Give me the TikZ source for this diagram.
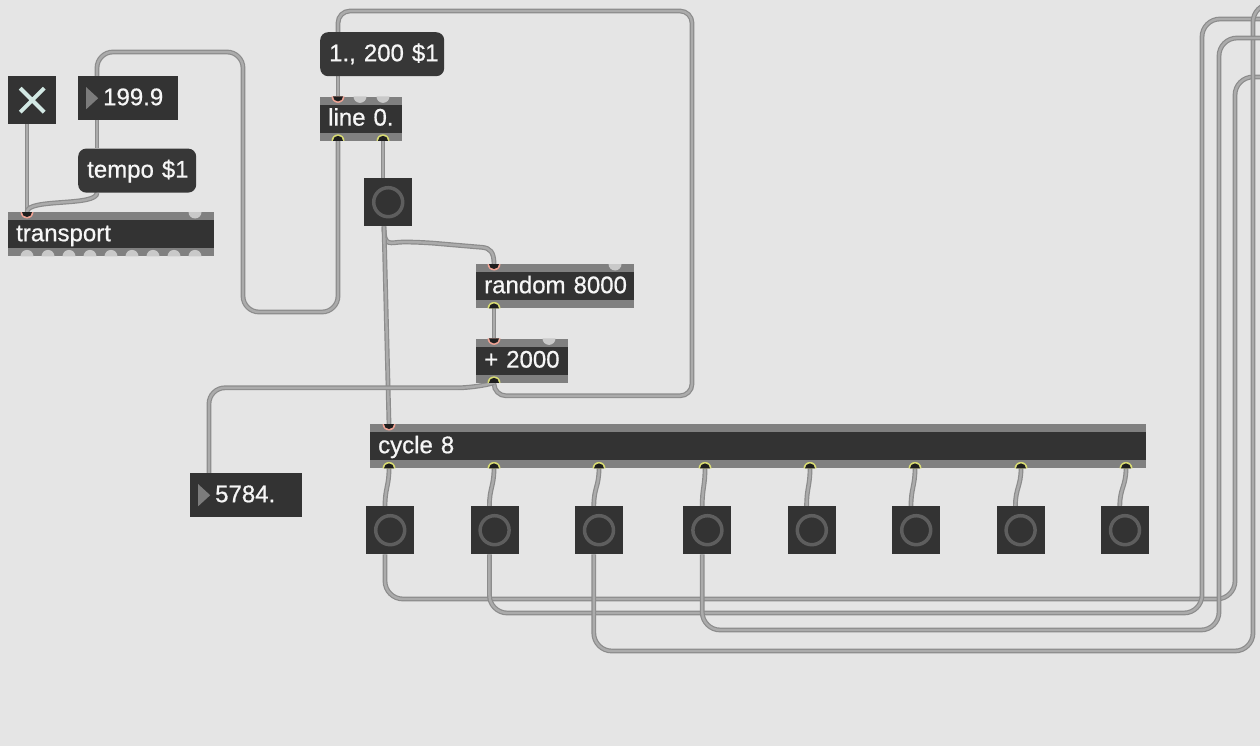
\documentclass[tikz,border=0pt]{standalone}
\usepackage{fontspec}
\setmainfont{Liberation Sans}
\newfontfamily\maxfont{Liberation Sans}[FakeBold=0.7]
\usetikzlibrary{positioning,backgrounds}

\definecolor{patchbg}{HTML}{E5E5E5}
\definecolor{objdark}{HTML}{333333}
\definecolor{objgray}{HTML}{808080}
\definecolor{msgdark}{HTML}{373737}
\definecolor{textwhite}{HTML}{F6F6F6}
\definecolor{portdark}{HTML}{1E1E1E}
\definecolor{portfree}{HTML}{C9C9C9}
\definecolor{inrim}{HTML}{EFA394}
\definecolor{outrim}{HTML}{D9DC72}
\definecolor{wireedge}{HTML}{8C8C8C}
\definecolor{wirefill}{HTML}{ABABAB}
\definecolor{ringgray}{HTML}{5E5E5E}
\definecolor{xcol}{HTML}{D3E9E4}
\definecolor{tricol}{HTML}{7C7C7C}

\tikzset{
  maxtext/.style={font=\maxfont\fontsize{24}{28}\selectfont, text=textwhite, anchor=north west,
    inner sep=0pt, minimum height=44pt, align=left, text height=18pt, text depth=4pt},
  obj/.style={maxtext, fill=objgray, execute at begin node={\hspace*{8pt}},
    path picture={\fill[objdark] ([yshift=-8pt]path picture bounding box.north west)
      rectangle ([yshift=8pt]path picture bounding box.south east);}},
  msgbox/.style={maxtext, fill=msgdark, rounded corners=8pt, execute at begin node={\hspace*{9pt}}},
  numbox/.style={maxtext, fill=objdark, execute at begin node={\hspace*{25pt}},
    path picture={\fill[tricol] ([xshift=8pt,yshift=-11pt]path picture bounding box.north west)
      -- ++(0pt,-22pt) -- ++(12pt,11pt) -- cycle;}},
  bangbox/.style={anchor=north west, fill=objdark, minimum size=48pt, inner sep=0pt,
    path picture={\draw[ringgray, line width=3.5pt] (path picture bounding box.center) circle (14.5pt);}},
  togglebox/.style={anchor=north west, fill=objdark, minimum size=48pt, inner sep=0pt,
    path picture={\draw[xcol, line width=4pt]
      ([shift={(-12pt,12pt)}]path picture bounding box.center) -- ([shift={(12pt,-12pt)}]path picture bounding box.center)
      ([shift={(-12pt,-12pt)}]path picture bounding box.center) -- ([shift={(12pt,12pt)}]path picture bounding box.center);}},
  wire/.style={draw=wireedge, line width=4.8pt, rounded corners=16pt, postaction={draw=wirefill, line width=2.4pt}},
  inlet/.pic={\fill[inrim] (-6.5pt,0pt) arc[start angle=180, end angle=360, radius=6.5pt] -- cycle;
    \fill[portdark] (-5pt,0pt) arc[start angle=180, end angle=360, radius=5pt] -- cycle;},
  outlet/.pic={\fill[outrim] (-6.5pt,0pt) arc[start angle=180, end angle=0, radius=6.5pt] -- cycle;
    \fill[portdark] (-5pt,0pt) arc[start angle=180, end angle=0, radius=5pt] -- cycle;},
  freein/.pic={\fill[portfree] (-6.5pt,0pt) arc[start angle=180, end angle=360, radius=6.5pt] -- cycle;},
  freeout/.pic={\fill[portfree] (-6.5pt,0pt) arc[start angle=180, end angle=0, radius=6.5pt] -- cycle;}
}

\begin{document}
\begin{tikzpicture}[x=1pt, y=-1pt]
  \useasboundingbox (0,0) rectangle (1260,746);

  \node[togglebox] (tog) at (8,76) {};
  \node[numbox, text width=100pt] (num1) at (78,76) {199.9};
  \node[msgbox, text width=118pt, below=28pt of num1.south west, anchor=north west] (tmp) {tempo \$1};
  \node[obj, text width=206pt] (tr) at (8,212) {transport};
  \node[msgbox, text width=124pt] (msg) at (320,32) {1., 200 \$1};
  \node[obj, text width=82pt, below=20pt of msg.south west, anchor=north west] (ln) {line 0.};
  \node[bangbox] (bang) at (364,178) {};
  \node[obj, text width=158pt] (rnd) at (476,264) {random 8000};
  \node[obj, text width=92pt, below=30pt of rnd.south west, anchor=north west] (add) {+ 2000};
  \node[numbox, text width=112pt] (num2) at (190,473) {5784.};
  \node[obj, text width=776pt] (cyc) at (370,424) {cycle 8};
  \node[bangbox] (b1) at (366,506) {};
  \node[bangbox, right=56pt of b1] (b2) {};
  \node[bangbox, right=56pt of b2] (b3) {};
  \node[bangbox, right=60pt of b3] (b4) {};
  \node[bangbox, right=56pt of b4] (b5) {};
  \node[bangbox, right=56pt of b5] (b6) {};
  \node[bangbox, right=56pt of b6] (b7) {};
  \node[bangbox, right=56pt of b7] (b8) {};

  \coordinate (tog-o) at ([xshift=19pt]tog.south west);
  \coordinate (num1-i) at ([xshift=19pt]num1.north west);
  \coordinate (num1-o) at ([xshift=19pt]num1.south west);
  \coordinate (tmp-i) at ([xshift=19pt]tmp.north west);
  \coordinate (tmp-o) at ([xshift=19pt]tmp.south west);
  \coordinate (tr-i1) at ([xshift=19pt]tr.north west);
  \coordinate (msg-i) at ([xshift=18pt]msg.north west);
  \coordinate (msg-o) at ([xshift=18pt]msg.south west);
  \coordinate (ln-i1) at ([xshift=18pt]ln.north west);
  \coordinate (ln-o1) at ([xshift=18pt]ln.south west);
  \coordinate (ln-o2) at ([xshift=63pt]ln.south west);
  \coordinate (bang-i) at ([xshift=19pt]bang.north west);
  \coordinate (bang-o) at ([xshift=20pt]bang.south west);
  \coordinate (rnd-i1) at ([xshift=18pt]rnd.north west);
  \coordinate (rnd-o) at ([xshift=18pt]rnd.south west);
  \coordinate (add-i1) at ([xshift=18pt]add.north west);
  \coordinate (add-o) at ([xshift=18pt]add.south west);
  \coordinate (num2-i) at ([xshift=19pt]num2.north west);
  \coordinate (cyc-i1) at ([xshift=19pt]cyc.north west);
  \foreach \k/\s in {1/19,2/124,3/229,4/335,5/440,6/545,7/651,8/756}
    \coordinate (cyc-o\k) at ([xshift=\s pt]cyc.south west);
  \foreach \k in {1,...,8} {
    \coordinate (b\k-i) at ([xshift=19pt]b\k.north west);
    \coordinate (b\k-o) at ([xshift=19pt]b\k.south west);
  }
  \coordinate (far1) at (1290,77);
  \coordinate (far2) at (1290,19);
  \coordinate (far3) at (1290,4);
  \coordinate (far4) at (1290,38);

  \begin{scope}[on background layer]
    \fill[patchbg] (0,0) rectangle (1260,746);
    \draw[wire] (tog-o) -- (tr-i1);
    \draw[wire] (num1-o) -- (tmp-i);
    \draw[wire] (tmp-o) .. controls +(0,14) and +(0,-14) .. (tr-i1);
    \draw[wire] (ln-o1) |- (243,312) -- (243,52) -| (num1-i);
    \draw[wire] (msg-o) -- (ln-i1);
    \draw[wire, rounded corners=12pt] (add-o) -- ++(0,13) -| (692,11) -| (msg-i);
    \draw[wire] (ln-o2) -- (bang-i);
    \draw[wire] (bang-o) .. controls +(0,22) and +(-30,0) .. (420,242) -- (466,246) .. controls +(24,2) and +(0,-12) .. (rnd-i1);
    \draw[wire] (bang-o) -- (cyc-i1);
    \draw[wire] (rnd-o) -- (add-i1);
    \draw[wire] (add-o) -- ++(-20,5) -| (num2-i);
    \foreach \k in {1,...,8}
      \draw[wire] (cyc-o\k) .. controls +(0,18) and +(0,-18) .. (b\k-i);
    \draw[wire, rounded corners=18pt] (b1-o) |- (1235,599) |- (far1);
    \draw[wire, rounded corners=18pt] (b2-o) |- (1202,613) |- (far2);
    \draw[wire, rounded corners=18pt] (b3-o) |- (1253,651) |- (far3);
    \draw[wire, rounded corners=18pt] (b4-o) |- (1219,630) |- (far4);
  \end{scope}

  \pic at (tr-i1) {inlet};
  \pic at ([xshift=187pt]tr.north west) {freein};
  \foreach \s in {19,40,...,187}
    \pic at ([xshift=\s pt]tr.south west) {freeout};
  \pic at (ln-i1) {inlet};
  \pic at ([xshift=40pt]ln.north west) {freein};
  \pic at ([xshift=63pt]ln.north west) {freein};
  \pic at (ln-o1) {outlet};
  \pic at (ln-o2) {outlet};
  \pic at (rnd-i1) {inlet};
  \pic at ([xshift=139pt]rnd.north west) {freein};
  \pic at (rnd-o) {outlet};
  \pic at (add-i1) {inlet};
  \pic at ([xshift=73pt]add.north west) {freein};
  \pic at (add-o) {outlet};
  \pic at (cyc-i1) {inlet};
  \foreach \k in {1,...,8}
    \pic at (cyc-o\k) {outlet};
\end{tikzpicture}
\end{document}
